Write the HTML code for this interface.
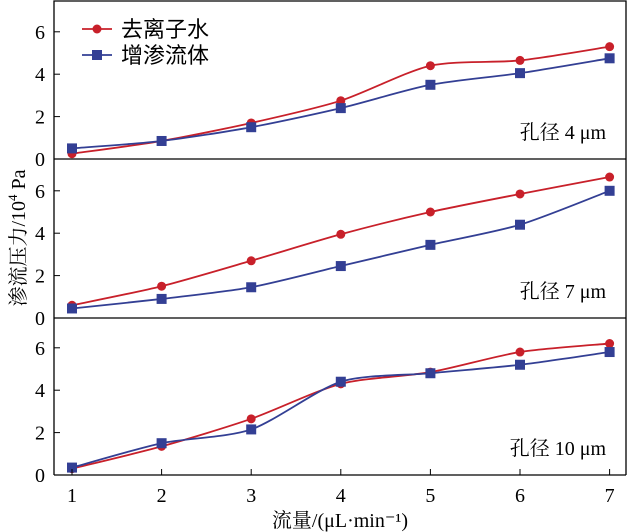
<!DOCTYPE html>
<html><head><meta charset="utf-8"><style>
body{margin:0;background:#fff;}
svg{display:block;font-family:"Liberation Serif","Noto Serif CJK SC",serif;}
</style></head><body>
<svg id="chart" width="627" height="532"></svg>
<script>
const categories=[1,2,3,4,5,6,7];
const yTicks=[0,2,4,6];
const p1Water=[0.25,0.85,1.7,2.75,4.4,4.65,5.3];
const p1Fluid=[0.5,0.85,1.5,2.4,3.5,4.05,4.75];
const p2Water=[0.6,1.5,2.7,3.95,5.0,5.85,6.65];
const p2Fluid=[0.45,0.9,1.45,2.45,3.45,4.4,6.0];
const p3Water=[0.3,1.35,2.65,4.3,4.85,5.8,6.2];
const p3Fluid=[0.35,1.5,2.15,4.4,4.8,5.2,5.8];
const panelLabels=["孔径 4 μm","孔径 7 μm","孔径 10 μm"];
const seriesNames=["去离子水","增渗流体"];

const NS="http://www.w3.org/2000/svg";
const svg=document.getElementById('chart');
function mk(t,a,p){const e=document.createElementNS(NS,t);for(const k in a)e.setAttribute(k,a[k]);(p||svg).appendChild(e);return e;}
const L=54,R=626,x=v=>72+(v-1)*89.6;
const zeros=[159,318,475],unit=21.2;
const RED="#c8202a",BLUE="#333f94";
function smooth(pts){let d=`M${pts[0][0]},${pts[0][1]}`;for(let i=0;i<pts.length-1;i++){const p0=pts[i-1]||pts[i],p1=pts[i],p2=pts[i+1],p3=pts[i+2]||p2;const t=0.13;d+=` C${p1[0]+(p2[0]-p0[0])*t},${p1[1]+(p2[1]-p0[1])*t} ${p2[0]-(p3[0]-p1[0])*t},${p2[1]-(p3[1]-p1[1])*t} ${p2[0]},${p2[1]}`;}return d;}
let f=mk('path',{d:`M${L},475 L${L},1 L${R},1 L${R},475`,fill:'none',stroke:'#000','stroke-width':1.3});

const panels=[[p1Water,p1Fluid],[p2Water,p2Fluid],[p3Water,p3Fluid]];
panels.forEach((pd,pi)=>{
  const z=zeros[pi],y=v=>z-v*unit;
  const g=mk('g',{});
  const ax=mk('line',{x1:L,x2:R,y1:z,y2:z,stroke:'#000','stroke-width':1.3},g);
  
  yTicks.forEach(t=>{
    const tk=mk('line',{x1:L,x2:L+6,y1:y(t),y2:y(t),stroke:'#000','stroke-width':1},g);
    
    const tl=mk('text',{x:L-9,y:y(t)+7,'text-anchor':'end','font-size':20},g);tl.textContent=t;
    
  });
  pd.forEach((vals,si)=>{
    const col=si?BLUE:RED;
    const pts=vals.map((v,i)=>[x(categories[i]),y(v)]);
    const ln=mk('path',{d:smooth(pts),fill:'none',stroke:col,'stroke-width':1.8},g);
    
    pts.forEach(p=>{
      const m=si?mk('rect',{x:p[0]-5,y:p[1]-5,width:10,height:10,fill:col},g):mk('circle',{cx:p[0],cy:p[1],r:4.5,fill:col},g);
      
    });
  });
  const pl=mk('text',{x:606,y:z-20,'text-anchor':'end','font-size':20},g);pl.textContent=panelLabels[pi];
  
});
categories.forEach(c=>{
  const tk=mk('line',{x1:x(c),x2:x(c),y1:475,y2:469,stroke:'#000','stroke-width':1});
  
  const tl=mk('text',{x:x(c),y:502,'text-anchor':'middle','font-size':20});tl.textContent=c;
  
});
seriesNames.forEach((n,i)=>{
  const yy=29+i*26,col=i?BLUE:RED;
  const lg=mk('g',{});
  mk('line',{x1:82,x2:112,y1:yy,y2:yy,stroke:col,'stroke-width':1.8},lg);
  if(i)mk('rect',{x:92,y:yy-5,width:10,height:10,fill:col},lg);else mk('circle',{cx:97,cy:yy,r:4.5,fill:col},lg);
  const t=mk('text',{x:121,y:yy+8,'font-size':22,'font-family':'"Noto Sans CJK SC",sans-serif'},lg);t.textContent=n;
});
const xt=mk('text',{x:340,y:527,'text-anchor':'middle','font-size':20});xt.textContent='流量/(μL·min⁻¹)';

const yt=mk('text',{x:0,y:0,'text-anchor':'middle','font-size':20,transform:'translate(25,238) rotate(-90)'});
yt.innerHTML='渗流压力/10<tspan dy="-8" font-size="13">4</tspan><tspan dy="8"> Pa</tspan>';

</script>
</body></html>
